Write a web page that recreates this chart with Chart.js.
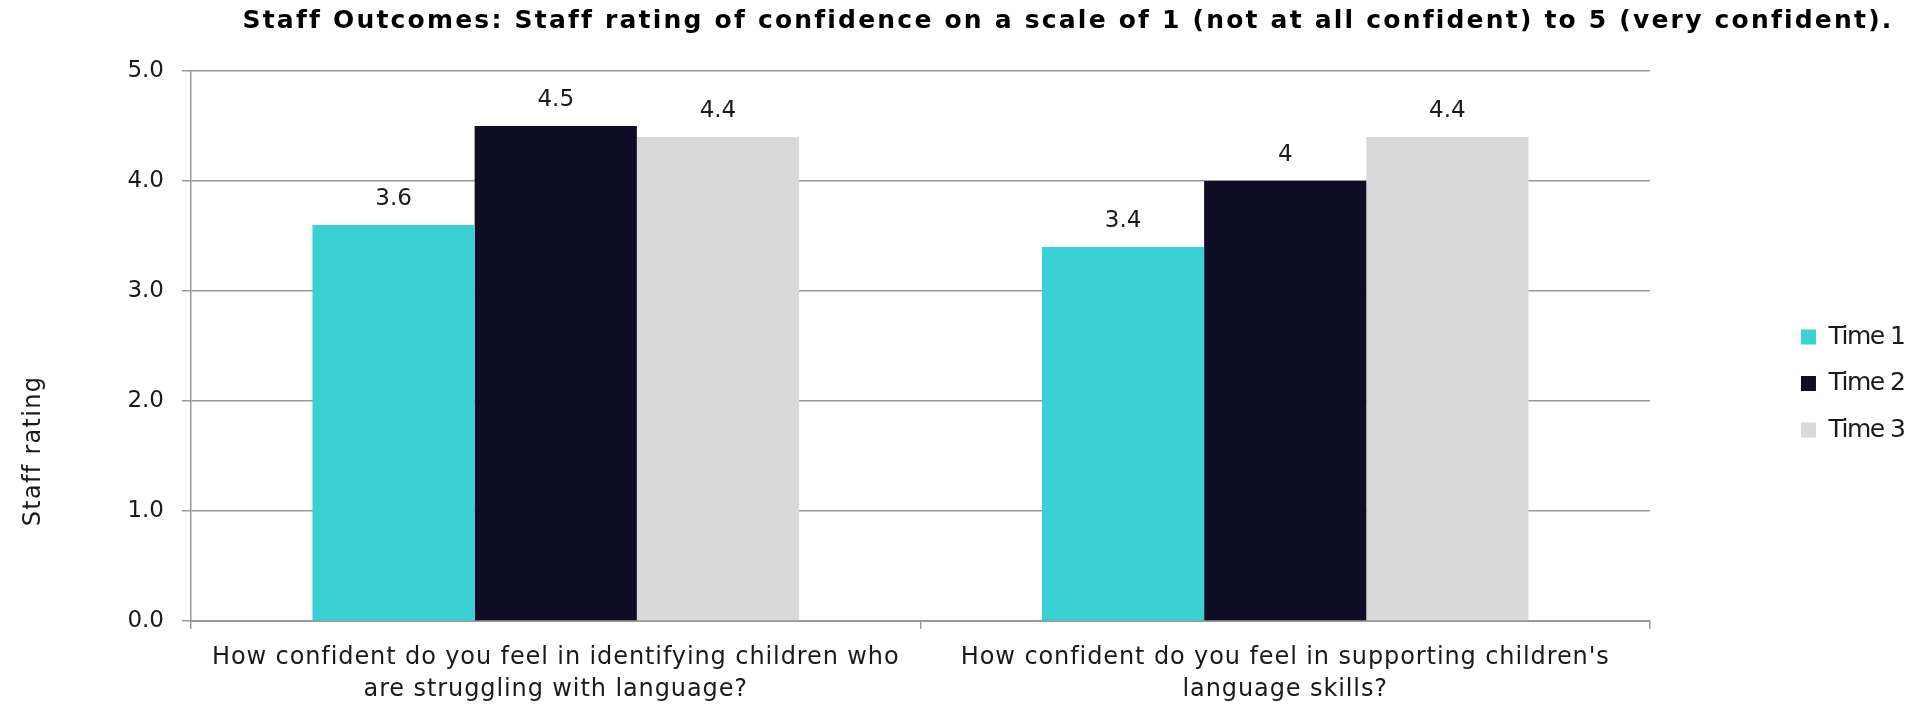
<!DOCTYPE html>
<html>
<head>
<meta charset="utf-8">
<script src="https://cdn.jsdelivr.net/npm/chart.js@4.4.1/dist/chart.umd.min.js"></script>
<style>
  html, body { margin: 0; padding: 0; background: #fff; }
  #wrap { width: 1929px; height: 704px; }
</style>
</head>
<body>
<div id="wrap"><canvas id="chartStaffRating"></canvas></div>
<script>
  // confidence questions (two-line labels)
  var questions = [
    ["How confident do you feel in identifying children who", "are struggling with language?"],
    ["How confident do you feel in supporting children's", "language skills?"]
  ];
  var time1 = [3.6, 3.4];
  var time2 = [4.5, 4];
  var time3 = [4.4, 4.4];
  var seriesNames = ["Time 1", "Time 2", "Time 3"];
  var yTicks = [0, 1, 2, 3, 4, 5];

  var FONT = "'DejaVu Sans'";
  var TEXT = "#1a1a1a";

  // letter spacing (and optional sideways nudge) around one draw method
  function spaced(obj, method, sp, dx) {
    if (!obj || obj["_spaced_" + method]) return;
    var fn = obj[method];
    obj[method] = function () {
      var c = this.ctx;
      c.save();
      c.letterSpacing = sp;
      if (dx) c.translate(dx, 0);
      fn.apply(this, arguments);
      c.restore();
    };
    obj["_spaced_" + method] = true;
  }

  var letterSpacing = {
    id: "letterSpacing",
    beforeDraw: function (chart) {
      spaced(chart.titleBlock, "draw", "2.2px", -30);
      spaced(chart.scales.x, "drawLabels", "0.9px");
      spaced(chart.legend, "draw", "-1.5px");
    }
  };

  // values above each bar
  var barValues = {
    id: "barValues",
    afterDatasetsDraw: function (chart) {
      var ctx = chart.ctx;
      ctx.save();
      ctx.font = "23px " + FONT;
      ctx.fillStyle = TEXT;
      ctx.textAlign = "center";
      ctx.textBaseline = "middle";
      chart.data.datasets.forEach(function (ds, i) {
        chart.getDatasetMeta(i).data.forEach(function (bar, j) {
          ctx.fillText(String(ds.data[j]), bar.x, bar.y - 26);
        });
      });
      ctx.restore();
    }
  };

  // rotated axis title, sits lower than the axis middle
  var yAxisTitle = {
    id: "yAxisTitle",
    afterDraw: function (chart) {
      var ctx = chart.ctx;
      ctx.save();
      ctx.translate(34, chart.chartArea.top + 380);
      ctx.rotate(-Math.PI / 2);
      ctx.font = "24px " + FONT;
      ctx.letterSpacing = "1.3px";
      ctx.fillStyle = TEXT;
      ctx.textAlign = "center";
      ctx.textBaseline = "middle";
      ctx.fillText("Staff rating", 0, 0);
      ctx.restore();
    }
  };

  var ctx1 = document.getElementById("chartStaffRating").getContext("2d");
  new Chart(ctx1, {
    type: "bar",
    data: {
      labels: questions,
      datasets: [
        { label: seriesNames[0], data: time1, backgroundColor: "#3ad1d4" },
        { label: seriesNames[1], data: time2, backgroundColor: "#0f0c26" },
        { label: seriesNames[2], data: time3, backgroundColor: "#d9d9d9" }
      ]
    },
    options: {
      responsive: true,
      maintainAspectRatio: false,
      animation: false,
      layout: { padding: { left: 0, right: 5.5, top: 0, bottom: 0 } },
      datasets: {
        bar: { categoryPercentage: 0.667, barPercentage: 1.0, borderWidth: 0 }
      },
      plugins: {
        title: {
          display: true,
          align: "end",
          text: "Staff Outcomes: Staff rating of confidence on a scale of 1 (not at all confident) to 5 (very confident).",
          color: "#000",
          font: { family: FONT, size: 25, weight: "bold", lineHeight: 1.2 },
          padding: { top: 6, bottom: 35 }
        },
        legend: {
          position: "right",
          align: "center",
          title: { display: true, text: "", font: { size: 12 }, padding: { top: 24, bottom: 24.6 } },
          labels: {
            boxWidth: 15,
            boxHeight: 15,
            padding: 21.5,
            color: TEXT,
            font: { family: FONT, size: 25 }
          }
        },
        tooltip: { enabled: false }
      },
      scales: {
        x: {
          grid: {
            display: true,
            drawOnChartArea: false,
            drawTicks: true,
            tickLength: 8,
            color: "#999",
            lineWidth: 1.5
          },
          border: { display: true, color: "#999", width: 2 },
          ticks: {
            color: TEXT,
            padding: 13.5,
            maxRotation: 0,
            autoSkip: false,
            font: { family: FONT, size: 24, lineHeight: 1.3 }
          },
          afterFit: function (scale) { scale.height = 83; }
        },
        y: {
          min: 0,
          max: 5,
          afterBuildTicks: function (scale) {
            scale.ticks = yTicks.map(function (v) { return { value: v }; });
          },
          grid: {
            color: "#999",
            lineWidth: 1.5,
            drawTicks: true,
            tickLength: 9
          },
          border: { display: true, color: "#999", width: 1.5 },
          ticks: {
            color: TEXT,
            padding: 18,
            font: { family: FONT, size: 23 },
            callback: function (v) { return Number(v).toFixed(1); }
          },
          afterFit: function (scale) { scale.width = 191; }
        },
        // empty spacer between plot and legend
        gap: {
          type: "linear",
          position: "right",
          display: true,
          grid: { display: false },
          border: { display: false },
          ticks: { display: false },
          afterFit: function (scale) { scale.width = 129.5; }
        }
      }
    },
    plugins: [letterSpacing, barValues, yAxisTitle]
  });
</script>
</body>
</html>
